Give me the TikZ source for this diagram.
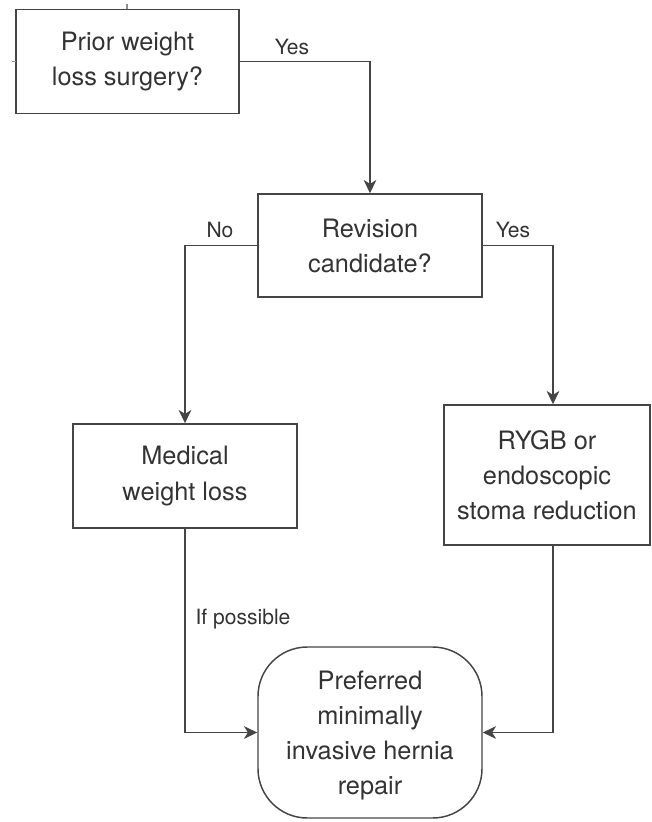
\documentclass[tikz,border=0pt]{standalone}
\usepackage{fontspec}
\setmainfont{TeX Gyre Heros}
\usetikzlibrary{arrows.meta}
\definecolor{ln}{HTML}{454545}
\definecolor{tx}{HTML}{333333}
\tikzset{
  box/.style={draw=ln, line width=1.1pt, rectangle, align=center, text=tx,
    font=\fontsize{19}{26.3}\selectfont, inner sep=0pt},
  lbl/.style={text=tx, font=\fontsize{15.8}{18}\selectfont, inner sep=0pt},
  conn/.style={draw=ln, line width=1.1pt, -{Stealth[length=10pt,width=9.5pt,inset=3pt]}},
  tick/.style={draw=ln!60, line width=0.8pt}
}
\begin{document}
\begin{tikzpicture}[x=0.75pt,y=-0.75pt]
\useasboundingbox (0,0) rectangle (651,822);
\node[box, minimum width=223*0.75pt, minimum height=104*0.75pt] (b1) at (127.5,61.5) {\raisebox{-2pt}{}Prior weight\\loss surgery?};
\node[box, minimum width=224*0.75pt, minimum height=103*0.75pt] (b2) at (370,245.5) {Revision\\candidate?};
\node[box, minimum width=224*0.75pt, minimum height=104*0.75pt] (med) at (185,476) {Medical\\weight loss};
\node[box, minimum width=206*0.75pt, minimum height=140*0.75pt] (ryg) at (547,475) {RYGB or\\endoscopic\\stoma reduction};
\node[box, rounded corners=37pt, minimum width=224*0.75pt, minimum height=171*0.75pt, text depth=0pt] (fin) at (370,732.5) {Preferred\\minimally\\invasive hernia\\repair};
\coordinate (rt) at ([xshift=4.5pt]ryg.north);
\coordinate (rb) at ([xshift=4.5pt]ryg.south);
\draw[conn] (b1.east) -| (b2.north);
\draw[conn] (b2.west) -| (med.north);
\draw[conn] (b2.east) -| (rt);
\draw[conn] (med.south) |- (fin.west);
\draw[conn] (rb) |- (fin.east);
\node[lbl] (l1) at (292,47) {Yes};
\node[lbl] (l2) at (220,230) {No};
\node[lbl] (l3) at (513,230) {Yes};
\node[lbl] (l4) at (243,619) {If possible};
\coordinate (t1a) at (127,4);
\coordinate (t1b) at (127,9);
\coordinate (t2a) at (12,61.5);
\coordinate (t2b) at (16,61.5);
\draw[tick] (t1a) -- (t1b);
\draw[tick] (t2a) -- (t2b);
\end{tikzpicture}
\end{document}
